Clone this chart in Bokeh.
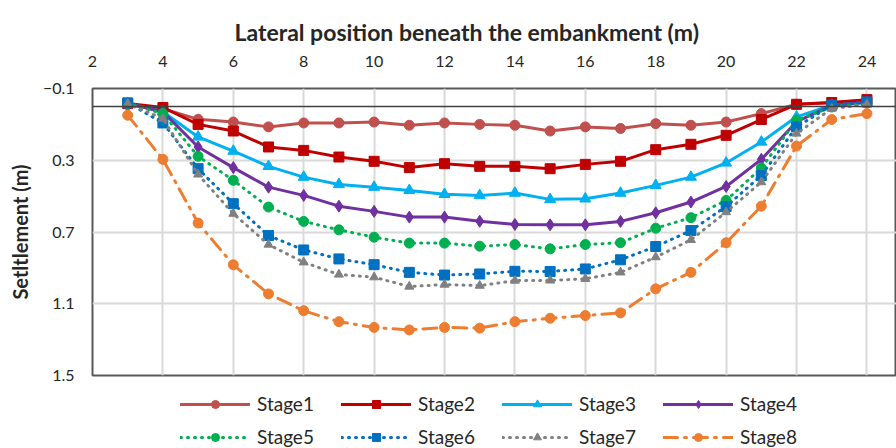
from bokeh.plotting import figure
from bokeh.layouts import column
from bokeh.models import (Range1d, LinearAxis, FixedTicker, Span, Legend, LegendItem, Title)
from bokeh.embed import file_html
from bokeh.resources import INLINE

# Lateral positions (m) and settlement (m) for each construction stage
positions = [3, 4, 5, 6, 7, 8, 9, 10, 11, 12, 13, 14, 15, 16, 17, 18, 19, 20, 21, 22, 23, 24]

stage1 = [-0.01, 0.012, 0.072, 0.087, 0.114, 0.092, 0.092, 0.087, 0.105, 0.092, 0.100,
          0.105, 0.137, 0.114, 0.123, 0.096, 0.105, 0.087, 0.040, -0.012, -0.020, -0.035]
stage2 = [-0.016, 0.006, 0.100, 0.137, 0.226, 0.245, 0.282, 0.306, 0.341, 0.319, 0.334,
          0.334, 0.347, 0.323, 0.306, 0.241, 0.211, 0.161, 0.073, -0.012, -0.022, -0.038]
stage3 = [-0.016, 0.030, 0.170, 0.249, 0.334, 0.394, 0.435, 0.450, 0.468, 0.490, 0.496,
          0.483, 0.518, 0.515, 0.483, 0.440, 0.394, 0.315, 0.198, 0.058, -0.007, -0.020]
stage4 = [-0.016, 0.030, 0.226, 0.341, 0.450, 0.496, 0.556, 0.585, 0.617, 0.617, 0.640,
          0.658, 0.660, 0.660, 0.641, 0.593, 0.533, 0.446, 0.295, 0.085, -0.005, -0.025]
stage5 = [-0.016, 0.040, 0.278, 0.412, 0.561, 0.641, 0.688, 0.729, 0.762, 0.762, 0.779,
          0.770, 0.794, 0.770, 0.760, 0.679, 0.620, 0.524, 0.343, 0.077, 0.003, -0.020]
stage6 = [-0.020, 0.092, 0.347, 0.542, 0.720, 0.800, 0.850, 0.882, 0.925, 0.940, 0.934,
          0.919, 0.920, 0.906, 0.855, 0.781, 0.692, 0.558, 0.385, 0.114, -0.007, -0.025]
stage7 = [-0.016, 0.068, 0.379, 0.598, 0.770, 0.869, 0.937, 0.952, 1.004, 0.993, 0.999,
          0.971, 0.970, 0.961, 0.925, 0.840, 0.744, 0.589, 0.422, 0.151, 0.012, -0.012]
stage8 = [0.049, 0.295, 0.650, 0.883, 1.045, 1.139, 1.200, 1.232, 1.246, 1.232, 1.236,
          1.200, 1.181, 1.166, 1.151, 1.017, 0.925, 0.760, 0.556, 0.221, 0.073, 0.040]

stage_names = ["Stage1", "Stage2", "Stage3", "Stage4", "Stage5", "Stage6", "Stage7", "Stage8"]
x_ticks = [2, 4, 6, 8, 10, 12, 14, 16, 18, 20, 22, 24]
y_ticks = [-0.1, 0.3, 0.7, 1.1, 1.5]

series = [stage1, stage2, stage3, stage4, stage5, stage6, stage7, stage8]
styles = [
    dict(color="#C0504D", dash="solid", marker="circle", size=10),
    dict(color="#C00000", dash="solid", marker="square", size=10),
    dict(color="#00B0F0", dash="solid", marker="triangle", size=11),
    dict(color="#7030A0", dash="solid", marker="diamond", size=12),
    dict(color="#00B050", dash="1 6", marker="circle", size=10),
    dict(color="#0070C0", dash="1 6", marker="square", size=10),
    dict(color="#808080", dash="1 6", marker="triangle", size=9),
    dict(color="#ED7D31", dash="14 7 2 7", marker="circle", size=10),
]

FONT = "Lato"
TEXT = "#262626"

p = figure(width=896, height=388, output_backend="svg", toolbar_location=None,
           x_range=Range1d(2, 24.84), y_range=Range1d(1.5, -0.1),
           x_axis_location=None, y_axis_location=None,
           min_border_left=92, min_border_right=0, min_border_top=88, min_border_bottom=13)
p.background_fill_color = "white"
p.border_fill_color = "white"
p.outline_line_color = "#595959"
p.outline_line_width = 2

# x axis along the top edge
xaxis = LinearAxis(ticker=FixedTicker(ticks=x_ticks))
xaxis.axis_line_color = None
xaxis.major_tick_line_color = None
xaxis.minor_tick_line_color = None
xaxis.major_label_text_font = FONT
xaxis.major_label_text_font_size = "16px"
xaxis.major_label_text_color = TEXT
xaxis.major_label_standoff = 16
p.add_layout(xaxis, "above")

title = Title(text="Lateral position beneath the embankment (m)", align="left", offset=142,
              text_font=FONT, text_font_size="23px", text_font_style="bold",
              text_color=TEXT, standoff=14)
p.add_layout(title, "above")

yaxis = LinearAxis(ticker=FixedTicker(ticks=y_ticks), axis_label="Setltlement (m)")
yaxis.axis_line_color = None
yaxis.major_tick_line_color = None
yaxis.minor_tick_line_color = None
yaxis.major_label_text_font = FONT
yaxis.major_label_text_font_size = "16px"
yaxis.major_label_text_color = TEXT
yaxis.major_label_standoff = 12
yaxis.axis_label_text_font = FONT
yaxis.axis_label_text_font_size = "20px"
yaxis.axis_label_text_font_style = "bold"
yaxis.axis_label_text_color = TEXT
yaxis.axis_label_standoff = 8
p.add_layout(yaxis, "left")

p.xgrid.ticker = FixedTicker(ticks=x_ticks)
p.ygrid.ticker = FixedTicker(ticks=y_ticks)
for g in (p.xgrid, p.ygrid):
    g.grid_line_color = "#D9D9D9"
    g.grid_line_width = 2

p.add_layout(Span(location=0, dimension="width", line_color="#404040", line_width=1.5))

for ys, st in zip(series, styles):
    p.line(positions, ys, line_color=st["color"], line_width=3,
           line_dash=st["dash"], line_cap="round")
    p.scatter(positions, ys, marker=st["marker"], size=st["size"],
              fill_color=st["color"], line_color=st["color"])

# legend strip under the chart; its renderers carry the same series but lie
# outside this strip's ranges, so only the legend samples show
lf = figure(width=896, height=60, output_backend="svg", toolbar_location=None,
            x_range=Range1d(100, 101), y_range=Range1d(100, 101),
            x_axis_location=None, y_axis_location=None,
            min_border_left=92, min_border_right=0, min_border_top=0, min_border_bottom=0)
lf.outline_line_color = None
lf.xgrid.visible = False
lf.ygrid.visible = False

items = []
for name, ys, st in zip(stage_names, series, styles):
    ln = lf.line(positions, ys, line_color=st["color"], line_width=3,
                 line_dash=st["dash"], line_cap="round")
    mk = lf.scatter(positions, ys, marker=st["marker"], size=st["size"],
                    fill_color=st["color"], line_color=st["color"])
    items.append(LegendItem(label=name, renderers=[ln, mk]))

legend = Legend(items=items, orientation="horizontal", ncols=4,
                glyph_width=70, glyph_height=20, label_width=74, label_standoff=7,
                spacing=10, padding=0, margin=0, border_line_color=None,
                background_fill_alpha=0, location=(88, 0),
                label_text_font=FONT, label_text_font_size="19px",
                label_text_color=TEXT)
lf.add_layout(legend, "center")

open("out.html", "w").write(file_html(column(p, lf), INLINE))
